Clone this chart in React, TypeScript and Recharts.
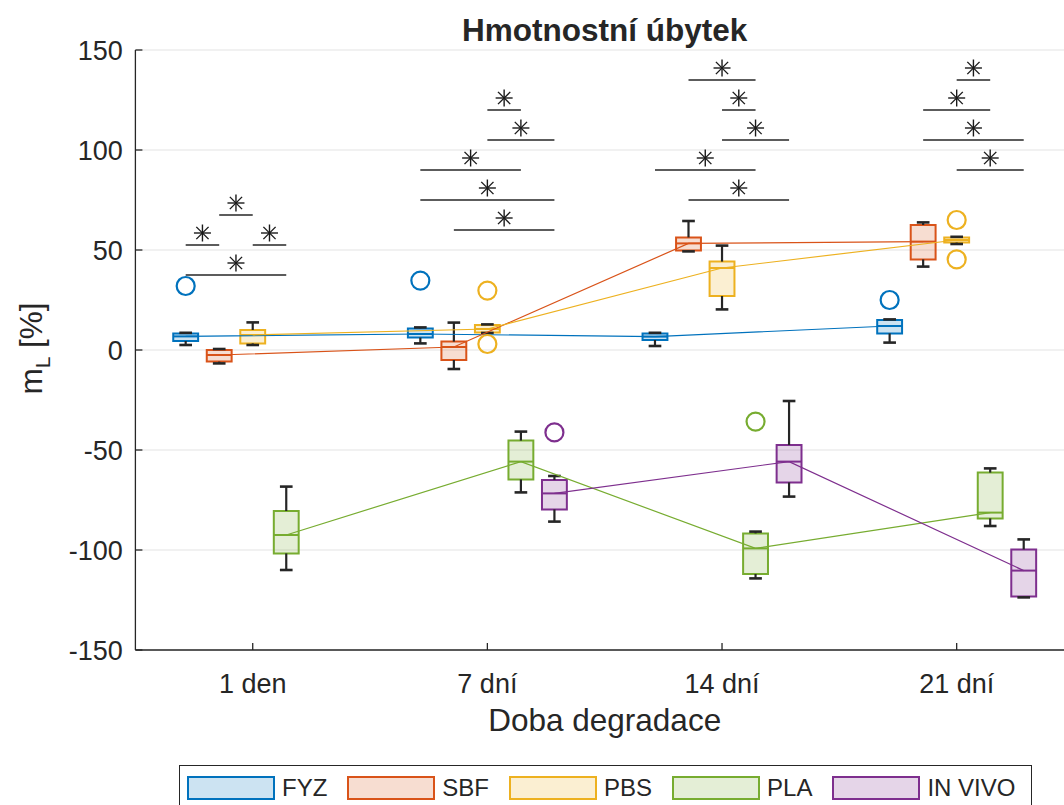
import React from 'react';
import {
  ComposedChart,
  XAxis,
  YAxis,
  CartesianGrid,
  Line,
  ReferenceArea,
  ReferenceLine,
  ReferenceDot,
  Legend,
} from 'recharts';

const categories = ['1 den', '7 dní', '14 dní', '21 dní'];
const groups = ['FYZ', 'SBF', 'PBS', 'PLA', 'IN VIVO'];
const groupColors = ['#0072BD', '#D95319', '#EDB120', '#77AC30', '#7E2F8E'];
const yTicks = [-150, -100, -50, 0, 50, 100, 150];

type Box = [number, number, number, number, number] | null;

// [lower whisker, Q1, median, Q3, upper whisker] for each degradation time
const fyzBoxes: Box[] = [
  [2.5, 4.5, 6.8, 8.3, 8.6],
  [3.3, 6.2, 8.0, 10.8, 11.3],
  [2.0, 5.0, 6.7, 8.3, 8.6],
  [3.7, 8.3, 12.0, 15.0, 15.3],
];
const sbfBoxes: Box[] = [
  [-6.7, -5.8, -2.5, 0.0, 0.5],
  [-9.5, -5.0, 1.5, 4.2, 13.7],
  [49.3, 49.7, 53.3, 56.3, 64.5],
  [41.7, 45.3, 54.2, 62.5, 63.8],
];
const pbsBoxes: Box[] = [
  [2.5, 3.3, 7.5, 10.0, 13.8],
  [8.5, 8.7, 10.5, 12.5, 12.8],
  [20.3, 27.0, 41.0, 44.2, 52.2],
  [53.0, 53.7, 55.0, 56.3, 56.6],
];
const plaBoxes: Box[] = [
  [-110.0, -101.7, -92.5, -80.5, -68.3],
  [-71.2, -64.7, -55.8, -45.3, -40.8],
  [-114.2, -112.0, -99.2, -91.7, -90.8],
  [-88.0, -84.2, -81.3, -61.3, -59.2],
];
const inVivoBoxes: Box[] = [
  null,
  [-85.8, -79.7, -71.7, -65.0, -63.0],
  [-73.3, -66.2, -55.8, -47.5, -25.5],
  [-123.7, -123.3, -110.3, -99.7, -94.7],
];

// values beyond the whiskers
const fyzOutliers: number[][] = [[32.0], [34.7], [], [25.0]];
const sbfOutliers: number[][] = [[], [], [], []];
const pbsOutliers: number[][] = [[], [29.7, 3.0], [], [65.0, 45.3]];
const plaOutliers: number[][] = [[], [], [-35.8], []];
const inVivoOutliers: number[][] = [[], [-41.2], [], []];

// significant pairwise differences: [time index, group A, group B, bar level]
const significance: [number, number, number, number][] = [
  [0, 0, 1, 52.5],
  [0, 1, 2, 67.5],
  [0, 2, 3, 52.5],
  [0, 0, 3, 37.5],
  [1, 2, 3, 120],
  [1, 2, 4, 105],
  [1, 0, 3, 90],
  [1, 0, 4, 75],
  [1, 1, 4, 60],
  [2, 1, 3, 135],
  [2, 2, 3, 120],
  [2, 2, 4, 105],
  [2, 0, 3, 90],
  [2, 1, 4, 75],
  [3, 2, 3, 135],
  [3, 1, 3, 120],
  [3, 1, 4, 105],
  [3, 2, 4, 90],
];

const FONT = "'Liberation Sans', Arial, Helvetica, sans-serif";
const INK = '#262626';
const GROUP_STEP = 1 / 7;
const BOX_HALF = 0.053;
const CAP_HALF = 0.027;

const boxSets = [fyzBoxes, sbfBoxes, pbsBoxes, plaBoxes, inVivoBoxes];
const outlierSets = [fyzOutliers, sbfOutliers, pbsOutliers, plaOutliers, inVivoOutliers];

const xPos = (t: number, g: number) => t + 1 + (g - 2) * GROUP_STEP;

const medianSeries = boxSets.map((boxes, g) =>
  boxes
    .map((b, t) => (b ? { x: xPos(t, g), y: b[2] } : null))
    .filter((p) => p !== null)
);

const Asterisk = (props: any) => {
  const { cx, cy } = props;
  const r = 8.5;
  const d = r * 0.72;
  const y0 = cy - 12;
  return (
    <g stroke="#1a1a1a" strokeWidth={1.4}>
      <line x1={cx - r} y1={y0} x2={cx + r} y2={y0} />
      <line x1={cx} y1={y0 - r} x2={cx} y2={y0 + r} />
      <line x1={cx - d} y1={y0 - d} x2={cx + d} y2={y0 + d} />
      <line x1={cx - d} y1={y0 + d} x2={cx + d} y2={y0 - d} />
    </g>
  );
};

const LegendBox = () => (
  <div
    style={{
      height: 45,
      width: 853,
      boxSizing: 'border-box',
      border: `1px solid ${INK}`,
      background: '#fff',
      display: 'flex',
      alignItems: 'center',
      paddingLeft: 7,
      fontFamily: FONT,
      fontSize: 24,
      color: INK,
      whiteSpace: 'nowrap',
    }}
  >
    {groups.map((g, i) => (
      <div key={g} style={{ display: 'flex', alignItems: 'center', marginRight: 20, flexShrink: 0 }}>
        <div
          style={{
            width: 88,
            height: 24,
            boxSizing: 'border-box',
            border: `2px solid ${groupColors[i]}`,
            background: groupColors[i] + '33',
            flexShrink: 0,
          }}
        />
        <span style={{ marginLeft: 7 }}>{g}</span>
      </div>
    ))}
  </div>
);

export default function App() {
  const marks: React.ReactNode[] = [];

  boxSets.forEach((boxes, g) => {
    const color = groupColors[g];
    boxes.forEach((b, t) => {
      if (!b) return;
      const [lo, q1, med, q3, hi] = b;
      const x = xPos(t, g);
      marks.push(
        <ReferenceLine key={`wu${g}-${t}`} segment={[{ x, y: q3 }, { x, y: hi }]} stroke={INK} strokeWidth={2.2} />,
        <ReferenceLine key={`wl${g}-${t}`} segment={[{ x, y: q1 }, { x, y: lo }]} stroke={INK} strokeWidth={2.2} />,
        <ReferenceLine
          key={`cu${g}-${t}`}
          segment={[{ x: x - CAP_HALF, y: hi }, { x: x + CAP_HALF, y: hi }]}
          stroke={INK}
          strokeWidth={2.6}
        />,
        <ReferenceLine
          key={`cl${g}-${t}`}
          segment={[{ x: x - CAP_HALF, y: lo }, { x: x + CAP_HALF, y: lo }]}
          stroke={INK}
          strokeWidth={2.6}
        />,
        <ReferenceArea
          key={`bx${g}-${t}`}
          x1={x - BOX_HALF}
          x2={x + BOX_HALF}
          y1={q1}
          y2={q3}
          fill={color}
          fillOpacity={0.2}
          stroke={color}
          strokeWidth={2}
          strokeOpacity={1}
        />,
        <ReferenceLine
          key={`md${g}-${t}`}
          segment={[{ x: x - BOX_HALF, y: med }, { x: x + BOX_HALF, y: med }]}
          stroke={color}
          strokeWidth={2}
        />
      );
    });
  });

  outlierSets.forEach((sets, g) => {
    sets.forEach((vals, t) => {
      vals.forEach((v, k) => {
        marks.push(
          <ReferenceDot
            key={`o${g}-${t}-${k}`}
            x={xPos(t, g)}
            y={v}
            r={9}
            fill="none"
            stroke={groupColors[g]}
            strokeWidth={2.2}
          />
        );
      });
    });
  });

  significance.forEach(([t, a, b, level], i) => {
    const xa = xPos(t, a);
    const xb = xPos(t, b);
    marks.push(
      <ReferenceLine
        key={`s${i}`}
        segment={[{ x: xa, y: level }, { x: xb, y: level }]}
        stroke={INK}
        strokeWidth={1.6}
      />,
      <ReferenceDot key={`a${i}`} x={(xa + xb) / 2} y={level} r={1} shape={<Asterisk />} />
    );
  });

  return (
    <div
      style={{
        position: 'fixed',
        left: 0,
        top: 0,
        width: 1064,
        height: 805,
        overflow: 'hidden',
        background: '#fff',
      }}
    >
      <ComposedChart width={1100} height={810} margin={{ top: 50, right: 26, bottom: 0, left: 75.4 }}>
        <CartesianGrid vertical={false} stroke="#e3e3e3" strokeWidth={1} />
        <XAxis
          type="number"
          dataKey="x"
          domain={[0.5, 4.5]}
          ticks={[1, 2, 3, 4]}
          allowDataOverflow
          tickFormatter={(v: number) => categories[v - 1]}
          height={115}
          tickSize={-7}
          tickMargin={31}
          stroke={INK}
          axisLine={{ stroke: INK, strokeWidth: 1.3 }}
          tickLine={{ stroke: INK, strokeWidth: 1.3 }}
          tick={{ fontSize: 27, fill: INK, fontFamily: FONT }}
        />
        <YAxis
          type="number"
          domain={[-150, 150]}
          ticks={yTicks}
          allowDataOverflow
          width={60}
          tickSize={-7}
          tickMargin={19.5}
          axisLine={{ stroke: INK, strokeWidth: 1.3 }}
          tickLine={{ stroke: INK, strokeWidth: 1.3 }}
          tick={{ fontSize: 27, fill: INK, fontFamily: FONT }}
        />
        {marks}
        {medianSeries.map((pts, g) => (
          <Line
            key={groups[g]}
            data={pts as any[]}
            dataKey="y"
            name={groups[g]}
            stroke={groupColors[g]}
            strokeWidth={1.2}
            dot={false}
            activeDot={false}
            isAnimationActive={false}
          />
        ))}
        <Legend
          verticalAlign="bottom"
          align="left"
          wrapperStyle={{ left: 179, bottom: 0, width: 853, height: 45 }}
          content={() => <LegendBox />}
        />
      </ComposedChart>
      <svg
        width={1064}
        height={805}
        style={{ position: 'absolute', left: 0, top: 0, pointerEvents: 'none' }}
        fontFamily={FONT}
        fill={INK}
      >
        <text x={604.7} y={41} textAnchor="middle" fontWeight="bold" fontSize={31.5}>
          Hmotnostní úbytek
        </text>
        <text x={604.7} y={731} textAnchor="middle" fontSize={31.5}>
          Doba degradace
        </text>
        <text transform="translate(42,348.5) rotate(-90)" textAnchor="middle" fontSize={31.5}>
          m
          <tspan dy={8} fontSize={21}>
            L
          </tspan>
          <tspan dy={-8}> [%]</tspan>
        </text>
      </svg>
    </div>
  );
}
